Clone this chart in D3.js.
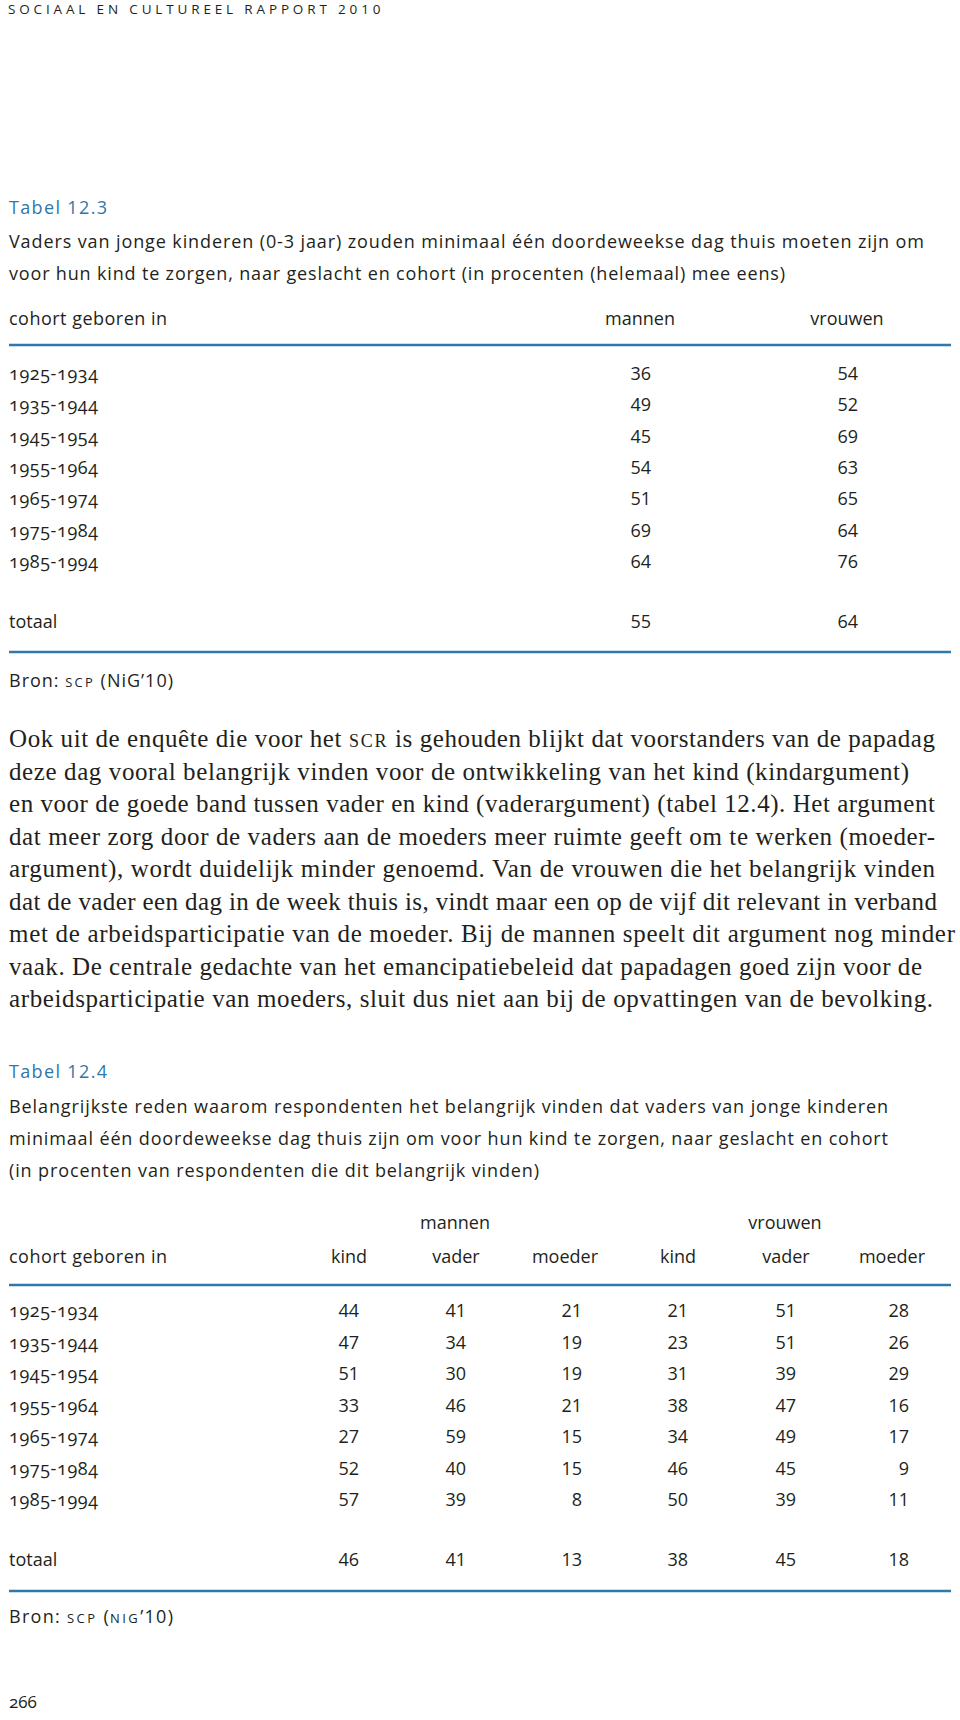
<!DOCTYPE html>
<html><head><meta charset="utf-8">
<script src="https://cdn.jsdelivr.net/npm/d3@7"></script>
<style>
html,body{margin:0;padding:0;background:#fff;}
svg{display:block;}
.sans{font-family:"Open Sans","Noto Sans",sans-serif;fill:#231f20;}
.serif{font-family:"Liberation Serif","DejaVu Serif",serif;fill:#231f20;}
.onum{font-variant-numeric:oldstyle-nums;font-feature-settings:"onum" 1;}
</style></head>
<body>
<script>
// ---------- data ----------
const cohorts = ["1925-1934","1935-1944","1945-1954","1955-1964","1965-1974","1975-1984","1985-1994"];
const t1Columns = ["mannen","vrouwen"];
const t1Mannen  = [36,49,45,54,51,69,64];
const t1Vrouwen = [54,52,69,63,65,64,76];
const t1Totaal  = [55,64];

const t2Groups  = ["mannen","vrouwen"];
const t2Columns = ["kind","vader","moeder","kind","vader","moeder"];
const t2KindM   = [44,47,51,33,27,52,57];
const t2VaderM  = [41,34,30,46,59,40,39];
const t2MoederM = [21,19,19,21,15,15,8];
const t2KindV   = [21,23,31,38,34,46,50];
const t2VaderV  = [51,51,39,47,49,45,39];
const t2MoederV = [28,26,29,16,17,9,11];
const t2Totaal  = [46,41,13,38,45,18];

const headerText = "SOCIAAL EN CULTUREEL RAPPORT 2010";
const t1Label = "Tabel 12.3";
const t1Title = ["Vaders van jonge kinderen (0-3 jaar) zouden minimaal één doordeweekse dag thuis moeten zijn om",
                 "voor hun kind te zorgen, naar geslacht en cohort (in procenten (helemaal) mee eens)"];
const t2Label = "Tabel 12.4";
const t2Title = ["Belangrijkste reden waarom respondenten het belangrijk vinden dat vaders van jonge kinderen",
                 "minimaal één doordeweekse dag thuis zijn om voor hun kind te zorgen, naar geslacht en cohort",
                 "(in procenten van respondenten die dit belangrijk vinden)"];
const paragraph = [
 ["Ook uit de enquête die voor het ", {sc:"SCR"}, " is gehouden blijkt dat voorstanders van de papadag"],
 ["deze dag vooral belangrijk vinden voor de ontwikkeling van het kind (kindargument)"],
 ["en voor de goede band tussen vader en kind (vaderargument) (tabel 12.4). Het argument"],
 ["dat meer zorg door de vaders aan de moeders meer ruimte geeft om te werken (moeder-"],
 ["argument), wordt duidelijk minder genoemd. Van de vrouwen die het belangrijk vinden"],
 ["dat de vader een dag in de week thuis is, vindt maar een op de vijf dit relevant in verband"],
 ["met de arbeidsparticipatie van de moeder. Bij de mannen speelt dit argument nog minder"],
 ["vaak. De centrale gedachte van het emancipatiebeleid dat papadagen goed zijn voor de"],
 ["arbeidsparticipatie van moeders, sluit dus niet aan bij de opvattingen van de bevolking."]
];
const paragraphEnds = [935,909,935,935,935,937,955,922,933];

// ---------- drawing ----------
const W = 960, H = 1720;
const BLUE = "#2e78ad";
const svg = d3.select("body").append("svg").attr("width", W).attr("height", H);

const L = 9, R = 951;

// page header
svg.append("text").attr("class","sans").attr("x",8).attr("y",14)
  .attr("font-size",13.5).attr("textLength",375).attr("lengthAdjust","spacing")
  .style("letter-spacing","2.5px").text(headerText);

function addText(x, y, str, opts={}) {
  const t = svg.append("text").attr("class", opts.cls || "sans")
    .attr("x", x).attr("y", y).attr("font-size", opts.size || 18)
    .attr("text-anchor", opts.anchor || "start");
  if (opts.fill) t.style("fill", opts.fill);
  if (opts.width) t.attr("textLength", opts.width).attr("lengthAdjust","spacing");
  t.text(str);
  return t;
}

function smallCapsLine(y, parts, width, size, cls) {
  const t = svg.append("text").attr("class", cls).attr("x", L).attr("y", y).attr("font-size", size);
  parts.forEach(p => {
    if (typeof p === "string") t.append("tspan").text(p);
    else t.append("tspan").attr("font-size", size*0.72).style("letter-spacing","1.2px").text(p.sc);
  });
  if (width) t.attr("textLength", width).attr("lengthAdjust","spacing");
  return t;
}

// ===== Tabel 12.3 =====
addText(L, 214, t1Label, {size:18, fill:BLUE, width:98});
addText(L, 248, t1Title[0], {size:18, width:915});
addText(L, 280, t1Title[1], {size:18, width:776});

const x1 = d3.scaleOrdinal().domain(t1Columns).range([651, 858]);  // right edges
const y1 = d3.scaleLinear().domain([0, cohorts.length-1]).range([380, 568]);

addText(L, 325, "cohort geboren in", {size:18, width:158});
t1Columns.forEach(c => addText(x1(c) - 11, 325, c, {anchor:"middle", size:18}));

svg.append("line").attr("x1",L).attr("x2",R).attr("y1",345).attr("y2",345)
  .attr("stroke",BLUE).attr("stroke-width",2.5);

const t1Rows = cohorts.map((c,i) => ({label:c, vals:[t1Mannen[i], t1Vrouwen[i]]}));
t1Rows.forEach((r,i) => {
  addText(L, y1(i), r.label, {size:18, cls:"sans onum", width:89});
  r.vals.forEach((v,j) => addText(x1(t1Columns[j]), y1(i), v, {anchor:"end", size:18}));
});
addText(L, 628, "totaal", {size:18});
t1Totaal.forEach((v,j) => addText(x1(t1Columns[j]), 628, v, {anchor:"end", size:18}));

svg.append("line").attr("x1",L).attr("x2",R).attr("y1",652).attr("y2",652)
  .attr("stroke",BLUE).attr("stroke-width",2.5);

smallCapsLine(687, ["Bron: ", {sc:"SCP"}, " (NiG’10)"], 164, 18, "sans");

// ===== paragraph =====
const yP = d3.scaleLinear().domain([0, paragraph.length-1]).range([747, 1007]);
paragraph.forEach((parts,i) => smallCapsLine(yP(i), parts, paragraphEnds[i]-L, 25, "serif"));

// ===== Tabel 12.4 =====
addText(L, 1078, t2Label, {size:18, fill:BLUE, width:98});
const yT2 = d3.scaleLinear().domain([0, t2Title.length-1]).range([1113, 1177]);
const t2Widths = [879, 879, 530];
t2Title.forEach((s,i) => addText(L, yT2(i), s, {size:18, width:t2Widths[i]}));

const colIdx = d3.range(t2Columns.length);
const x2 = d3.scaleOrdinal().domain(colIdx).range([359, 466, 582, 688, 796, 909]); // right edges
const colCentre = i => x2(i) - 12;

t2Groups.forEach((g,k) => addText(colCentre(k*3+1) + 1, 1229, g, {anchor:"middle", size:18}));
addText(L, 1263, "cohort geboren in", {size:18, width:158});
t2Columns.forEach((c,i) => addText(colCentre(i) + (c==="moeder" ? -5 : 2), 1263, c, {anchor:"middle", size:18}));

svg.append("line").attr("x1",L).attr("x2",R).attr("y1",1285).attr("y2",1285)
  .attr("stroke",BLUE).attr("stroke-width",2.5);

const y2 = d3.scaleLinear().domain([0, cohorts.length-1]).range([1317, 1506]);
const t2Series = [t2KindM, t2VaderM, t2MoederM, t2KindV, t2VaderV, t2MoederV];
cohorts.forEach((c,i) => {
  addText(L, y2(i), c, {size:18, cls:"sans onum", width:89});
  t2Series.forEach((s,j) => addText(x2(j), y2(i), s[i], {anchor:"end", size:18}));
});
addText(L, 1566, "totaal", {size:18});
t2Totaal.forEach((v,j) => addText(x2(j), 1566, v, {anchor:"end", size:18}));

svg.append("line").attr("x1",L).attr("x2",R).attr("y1",1591).attr("y2",1591)
  .attr("stroke",BLUE).attr("stroke-width",2.5);

smallCapsLine(1623, ["Bron: ", {sc:"SCP"}, " (", {sc:"NIG"}, "’10)"], 164, 18, "sans");

// page number
addText(L, 1708, "266", {size:17, cls:"sans onum"});
</script>
</body></html>
